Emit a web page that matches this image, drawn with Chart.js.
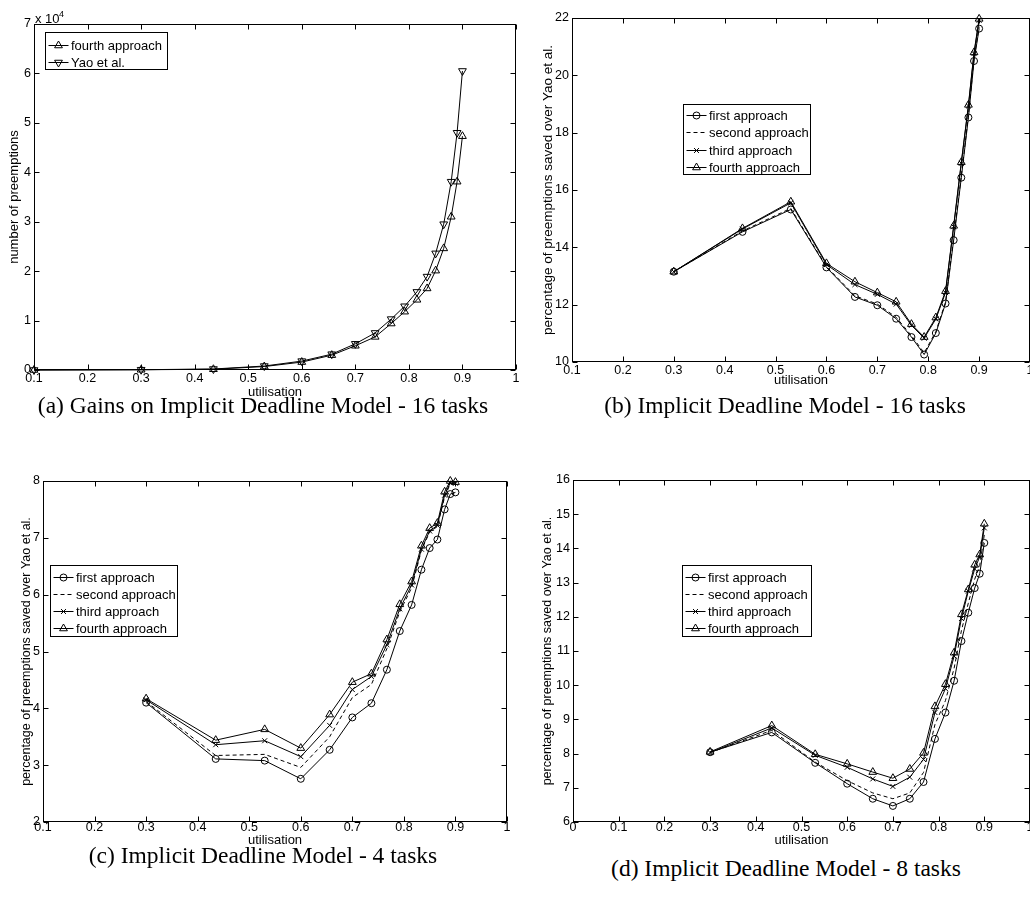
<!DOCTYPE html>
<html>
<head>
<meta charset="utf-8">
<script src="https://cdn.jsdelivr.net/npm/chart.js@4.4.1/dist/chart.umd.min.js"></script>
<style>
  html, body { margin: 0; padding: 0; background: #fff; }
  body { width: 1030px; height: 897px; overflow: hidden; position: relative; }
  canvas { position: absolute; }
  .cap {
    position: absolute;
    font-family: "Liberation Serif", "Times New Roman", serif;
    font-size: 23.5px;
    color: #000;
    white-space: nowrap;
    transform: translate(-50%, -50%);
  }
</style>
</head>
<body>
<canvas id="chartA"></canvas>
<canvas id="chartB"></canvas>
<canvas id="chartC"></canvas>
<canvas id="chartD"></canvas>
<div class="cap" id="capA" style="left:263px;top:405px"></div>
<div class="cap" id="capB" style="left:785px;top:405px"></div>
<div class="cap" id="capC" style="left:263px;top:855px"></div>
<div class="cap" id="capD" style="left:786px;top:868px"></div>
<script>
// ---- data ----
const captions = [
  "(a) Gains on Implicit Deadline Model - 16 tasks",
  "(b) Implicit Deadline Model - 16 tasks",
  "(c) Implicit Deadline Model - 4 tasks",
  "(d) Implicit Deadline Model - 8 tasks",
];

const utilisation = [0.3, 0.435, 0.53, 0.6, 0.656, 0.7, 0.737, 0.767, 0.792, 0.815, 0.834, 0.85, 0.865, 0.879, 0.89, 0.9];
const utilisationA = [0.1, 0.3, 0.435, 0.53, 0.6, 0.656, 0.7, 0.737, 0.767, 0.792, 0.815, 0.834, 0.85, 0.865, 0.879, 0.89, 0.9];

// (a) number of preemptions, 16 tasks
const fourthA = [0, 50, 150, 700, 1600, 3000, 4900, 6700, 9400, 11800, 14200, 16500, 20100, 24600, 31000, 38100, 47300];
const yaoA = [0, 60, 200, 800, 1800, 3200, 5300, 7500, 10300, 12900, 15800, 18900, 23600, 29500, 38100, 48000, 60500];

// (b) % saved over Yao et al., 16 tasks
const first16 = [13.15, 14.54, 15.32, 13.30, 12.27, 11.98, 11.51, 10.87, 10.26, 11.01, 12.04, 14.25, 16.43, 18.53, 20.50, 21.63];
const second16 = [13.15, 14.57, 15.36, 13.33, 12.31, 12.02, 11.56, 10.92, 10.32, 11.06, 12.09, 14.32, 16.50, 18.60, 20.58, 21.70];
const third16 = [13.15, 14.64, 15.55, 13.40, 12.70, 12.36, 12.02, 11.28, 10.83, 11.50, 12.42, 14.72, 16.93, 18.93, 20.76, 21.92];
const fourth16 = [13.15, 14.66, 15.59, 13.44, 12.80, 12.42, 12.10, 11.32, 10.87, 11.55, 12.47, 14.75, 16.97, 18.97, 20.80, 21.97];

// (c) 4 tasks
const first4 = [4.10, 3.11, 3.08, 2.76, 3.27, 3.84, 4.09, 4.68, 5.36, 5.82, 6.44, 6.82, 6.97, 7.50, 7.77, 7.80];
const second4 = [4.12, 3.17, 3.19, 2.96, 3.50, 4.19, 4.42, 5.05, 5.70, 6.12, 6.78, 7.10, 7.20, 7.72, 7.95, 7.95];
const third4 = [4.15, 3.36, 3.43, 3.15, 3.70, 4.33, 4.56, 5.12, 5.75, 6.17, 6.80, 7.12, 7.22, 7.75, 7.97, 7.96];
const fourth4 = [4.17, 3.44, 3.63, 3.30, 3.89, 4.46, 4.61, 5.21, 5.83, 6.23, 6.86, 7.17, 7.26, 7.81, 8.00, 7.98];

// (d) 8 tasks
const first8 = [8.04, 8.62, 7.73, 7.12, 6.68, 6.47, 6.68, 7.17, 8.43, 9.20, 10.13, 11.29, 12.12, 12.84, 13.26, 14.16];
const second8 = [8.03, 8.68, 7.75, 7.21, 6.85, 6.68, 6.85, 7.45, 8.85, 9.55, 10.50, 11.60, 12.40, 13.10, 13.50, 14.40];
const third8 = [8.03, 8.75, 7.95, 7.60, 7.26, 7.04, 7.31, 7.83, 9.20, 9.90, 10.85, 11.95, 12.75, 13.40, 13.75, 14.60];
const fourth8 = [8.05, 8.82, 7.98, 7.70, 7.46, 7.28, 7.55, 8.02, 9.38, 10.03, 10.95, 12.07, 12.80, 13.52, 13.82, 14.72];

const approachLabels = ["first approach", "second approach", "third approach", "fourth approach"];
const yaoLabel = "Yao et al.";
const xTitle = "utilisation";
const yTitleA = "number of preemptions";
const yTitle = "percentage of preemptions saved over Yao et al.";

// ---- styling ----
const SANS = '"Liberation Sans", Arial, Helvetica, sans-serif';
Chart.defaults.font.family = SANS;
Chart.defaults.color = "#000";

const markers = {
  first: { pointStyle: "circle", pointRadius: 3.5 },
  second: { borderDash: [4, 3], pointRadius: 0 },
  third: { pointStyle: "crossRot", pointRadius: 3.5 },
  fourth: { pointStyle: "triangle", pointRadius: 4.5 },
  yao: { pointStyle: "triangle", pointRadius: 4.5, pointRotation: 180 },
};

function series(label, xs, ys, style) {
  return Object.assign(
    {
      label: label,
      data: xs.map((x, i) => ({ x: x, y: ys[i] })),
      borderColor: "#000",
      borderWidth: 1,
      pointBorderColor: "#000",
      pointBackgroundColor: "rgba(0,0,0,0)",
      pointBorderWidth: 1,
      pointHoverRadius: 0,
      tension: 0,
      clip: false,
    },
    style
  );
}

// box, inward ticks, legend and exponent like the matlab figure
const frame = {
  id: "frame",
  afterDraw(chart, args, opts) {
    const { ctx, chartArea: a } = chart;
    const xs = chart.scales.x, ys = chart.scales.y;
    ctx.save();
    ctx.strokeStyle = "#000";
    ctx.lineWidth = 1;
    const L = Math.round(a.left) + 0.5, R = Math.round(a.right) - 0.5;
    const T = Math.round(a.top) + 0.5, B = Math.round(a.bottom) - 0.5;
    ctx.strokeRect(L, T, R - L, B - T);
    ctx.beginPath();
    xs.ticks.forEach((t) => {
      const px = Math.round(xs.getPixelForValue(t.value)) + 0.5;
      ctx.moveTo(px, B); ctx.lineTo(px, B - 5);
      ctx.moveTo(px, T); ctx.lineTo(px, T + 5);
    });
    ys.ticks.forEach((t) => {
      const py = Math.round(ys.getPixelForValue(t.value)) + 0.5;
      ctx.moveTo(L, py); ctx.lineTo(L + 5, py);
      ctx.moveTo(R, py); ctx.lineTo(R - 5, py);
    });
    ctx.stroke();

    if (opts.exponent) {
      ctx.fillStyle = "#000";
      ctx.textBaseline = "alphabetic";
      ctx.textAlign = "left";
      ctx.font = "13px " + SANS;
      ctx.fillText("x 10", a.left + 1, a.top - 1);
      ctx.font = "9px " + SANS;
      ctx.fillText(opts.exponent, a.left + 25, a.top - 7);
    }

    const lg = opts.legend;
    if (lg) {
      const bx = Math.round(a.left + lg.x) + 0.5, by = Math.round(a.top + lg.y) + 0.5;
      ctx.fillStyle = "#fff";
      ctx.fillRect(bx, by, lg.w, lg.h);
      ctx.strokeRect(bx, by, lg.w, lg.h);
      ctx.font = "13px " + SANS;
      ctx.textBaseline = "middle";
      ctx.textAlign = "left";
      chart.data.datasets.forEach((ds, i) => {
        const ry = Math.round(by + lg.rowTop + i * lg.rowGap) + 0.5;
        ctx.strokeStyle = "#000";
        ctx.setLineDash(ds.borderDash || []);
        ctx.beginPath();
        ctx.moveTo(bx + 3, ry);
        ctx.lineTo(bx + 23, ry);
        ctx.stroke();
        ctx.setLineDash([]);
        if (ds.pointRadius > 0) {
          ctx.fillStyle = "rgba(0,0,0,0)";
          Chart.helpers.drawPoint(ctx, {
            pointStyle: ds.pointStyle,
            radius: ds.pointRadius,
            rotation: ds.pointRotation || 0,
            borderWidth: 1,
          }, bx + 13, ry);
        }
        ctx.fillStyle = "#000";
        ctx.fillText(ds.label, bx + 25.5, ry + 0.5);
      });
    }
    ctx.restore();
  },
};

function fmt(v) {
  return String(Number(v.toFixed(1)));
}

// g: canvas box and axis sizes so the plot area lands where the figure has it
function makeChart(id, g, datasets, x, y, plugOpts) {
  const el = document.getElementById(id);
  el.width = g.w; el.height = g.h;
  el.style.left = g.left + "px"; el.style.top = g.top + "px";
  el.style.width = g.w + "px"; el.style.height = g.h + "px";
  return new Chart(el, {
    type: "line",
    data: { datasets: datasets },
    options: {
      responsive: false,
      animation: false,
      devicePixelRatio: 1,
      events: [],
      layout: { padding: { left: 0, top: g.padTop, right: g.padRight, bottom: 0 } },
      plugins: { legend: { display: false }, tooltip: { enabled: false }, frame: plugOpts },
      scales: {
        x: {
          type: "linear",
          min: x.min, max: x.max,
          grid: { display: false, drawTicks: false },
          border: { display: false },
          ticks: { stepSize: 0.1, autoSkip: false, maxRotation: 0, padding: g.xPad, font: { size: 12.5 }, callback: fmt },
          title: { display: true, text: xTitle, font: { size: 13 }, padding: { top: 0, bottom: 0 } },
          afterFit: (s) => { s.height = g.xh; },
        },
        y: {
          type: "linear",
          min: y.min, max: y.max,
          grid: { display: false, drawTicks: false },
          border: { display: false },
          ticks: { stepSize: y.step, autoSkip: false, padding: 3, font: { size: 12.5 }, callback: y.fmt || fmt },
          title: { display: true, text: y.title, font: { size: y.titleSize }, padding: { top: g.yTitlePad, bottom: 0 } },
          afterFit: (s) => { s.width = g.yw; },
        },
      },
    },
    plugins: [frame],
  });
}

const ds4 = (xs, a, b, c, d) => [
  series(approachLabels[0], xs, a, markers.first),
  series(approachLabels[1], xs, b, markers.second),
  series(approachLabels[2], xs, c, markers.third),
  series(approachLabels[3], xs, d, markers.fourth),
];

makeChart("chartA",
  { left: 0, top: 0, w: 526, h: 400, padTop: 24, padRight: 10, yw: 34, xh: 30, xPad: 1, yTitlePad: 7 },
  [series("fourth approach", utilisationA, fourthA, markers.fourth), series(yaoLabel, utilisationA, yaoA, markers.yao)],
  { min: 0.1, max: 1 },
  { min: 0, max: 70000, step: 10000, title: yTitleA, titleSize: 13, fmt: (v) => String(v / 10000) },
  { exponent: "4", legend: { x: 11, y: 8, w: 122, h: 37, rowTop: 12, rowGap: 17 } }
);

makeChart("chartB",
  { left: 532, top: 0, w: 508, h: 388, padTop: 18, padRight: 10, yw: 40, xh: 26, xPad: 1, yTitlePad: 8 },
  ds4(utilisation, first16, second16, third16, fourth16),
  { min: 0.1, max: 1 },
  { min: 10, max: 22, step: 2, title: yTitle, titleSize: 13.5, fmt: (v) => String(v) },
  { legend: { x: 111, y: 86, w: 127, h: 70, rowTop: 10, rowGap: 17.5 } }
);

makeChart("chartC",
  { left: 0, top: 440, w: 517, h: 408, padTop: 41, padRight: 10, yw: 43, xh: 26, xPad: -2, yTitlePad: 19 },
  ds4(utilisation, first4, second4, third4, fourth4),
  { min: 0.1, max: 1 },
  { min: 2, max: 8, step: 1, title: yTitle, titleSize: 12.5, fmt: (v) => String(v) },
  { legend: { x: 7, y: 84, w: 127, h: 71, rowTop: 11, rowGap: 17.3 } }
);

makeChart("chartD",
  { left: 532, top: 440, w: 508, h: 408, padTop: 40, padRight: 10, yw: 41, xh: 26, xPad: -2, yTitlePad: 8 },
  ds4(utilisation, first8, second8, third8, fourth8),
  { min: 0, max: 1 },
  { min: 6, max: 16, step: 1, title: yTitle, titleSize: 12.5, fmt: (v) => String(v) },
  { legend: { x: 109, y: 85, w: 129, h: 71, rowTop: 11, rowGap: 17.3 } }
);

["capA", "capB", "capC", "capD"].forEach((id, i) => {
  document.getElementById(id).textContent = captions[i];
});
</script>
</body>
</html>
